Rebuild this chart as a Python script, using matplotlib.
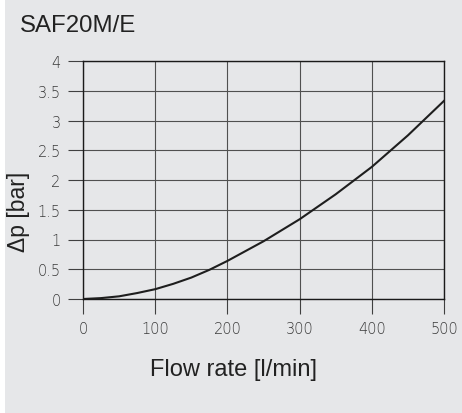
import matplotlib
matplotlib.use("Agg")
import matplotlib.pyplot as plt
from matplotlib.patches import Rectangle

# data
flow = [0, 25, 50, 75, 100, 125, 150, 175, 200, 250, 300, 350, 400, 450, 500]
dp = [0, 0.015, 0.045, 0.1, 0.165, 0.255, 0.36, 0.49, 0.64, 0.97, 1.34, 1.76, 2.22, 2.75, 3.33]
xticks = [0, 100, 200, 300, 400, 500]
yticks = [0, 0.5, 1, 1.5, 2, 2.5, 3, 3.5, 4]
ytick_labels = ["0", "0.5", "1", "1.5", "2", "2.5", "3", "3.5", "4"]

bg = "#e6e7e9"
fig = plt.figure(figsize=(4.62, 4.14), dpi=100, facecolor=bg)
# thin white strip on the left edge
fig.patches.append(Rectangle((0, 0), 5 / 462, 1, transform=fig.transFigure,
                             facecolor="white", edgecolor="none", zorder=-1))

ax = fig.add_axes([83 / 462, 1 - 300 / 414, 361 / 462, 238 / 414])
ax.set_facecolor(bg)
ax.plot(flow, dp, color="#1e1e1e", lw=1.5, zorder=5)

ax.set_xlim(0, 500)
ax.set_ylim(0, 4)
ax.set_xticks(xticks)
ax.set_yticks(yticks)
ax.set_yticklabels(ytick_labels)
ax.grid(True, color="#505050", lw=0.8)
for s in ax.spines.values():
    s.set_color("#1a1a1a")
    s.set_linewidth(1.0)
ax.tick_params(direction="out", length=11, width=0.8, color="#404040",
               labelcolor="#3a3a3a", labelsize=10.5, pad=5)
for lab in ax.get_xticklabels() + ax.get_yticklabels():
    lab.set_family("DejaVu Sans")
    lab.set_fontweight("light")

fig.text(20 / 462, 1 - 32 / 414, "SAF20M/E", fontsize=17.3,
         family="Liberation Sans", color="#222222", va="baseline", ha="left")
fig.text(234 / 462, 1 - 376 / 414, "Flow rate [l/min]", fontsize=17,
         family="Liberation Sans", color="#222222", va="baseline", ha="center")
fig.text(18 / 462, 1 - 212 / 414, "\u0394p [bar]", fontsize=16.5, rotation=90,
         family="Liberation Sans", color="#222222", va="center", ha="center")

fig.savefig("out.png", dpi=100, facecolor=bg)
